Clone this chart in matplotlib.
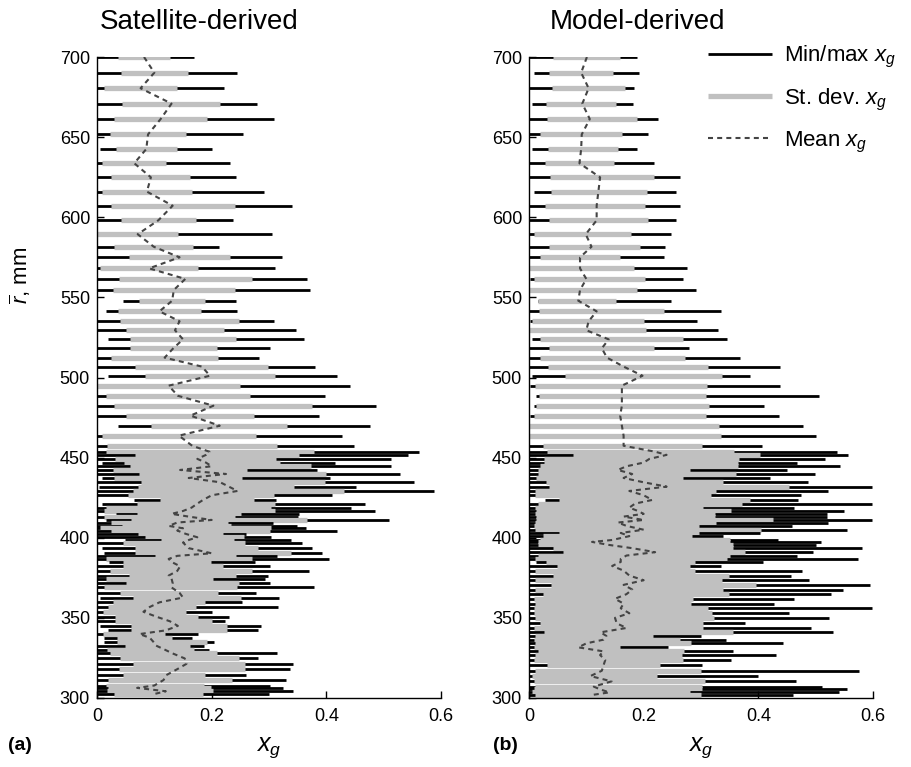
import matplotlib
matplotlib.use("Agg")
import matplotlib.pyplot as plt
from matplotlib.lines import Line2D

plt.rcParams["font.family"] = ["Liberation Sans", "DejaVu Sans"]
plt.rcParams["mathtext.fontset"] = "custom"
plt.rcParams["mathtext.rm"] = "Liberation Sans"
plt.rcParams["mathtext.it"] = "Liberation Sans:italic"

# ---- (a) satellite-derived: radius bins, min/max, st. dev. band and mean of x_g
sat_r = [700, 690.2, 680.5, 670.9, 661.3, 651.7, 642.6, 633.7, 624.9, 616.0, 607.2, 598.1,
         589.4, 581.6, 575.0, 568.1, 561.5, 554.6, 547.9, 541.3, 535.1, 529.5, 523.8, 518.2,
         512.4, 506.8, 501.1, 494.9, 488.6, 482.4, 476.2, 469.9, 463.7, 457.4,
         453.7, 451.7, 449.2, 446.9, 444.6, 442.3, 439.8, 437.3, 434.6, 431.9, 429.2, 426.5,
         423.6, 421.3, 418.8, 416.7, 414.9, 413.2, 411.1, 409.5, 407.4, 405.9, 404.5, 402.4,
         400.3, 398.6, 397.0, 393.5, 390.3, 388.7, 386.8, 384.9, 382.2, 379.3, 376.4,
         374.5, 371.7, 369.0, 365.6, 362.7, 359.7, 356.8, 353.8, 350.8, 347.9, 345.0, 342.2,
         339.9, 337.6, 335.2, 332.7, 330.2, 327.8, 324.7, 321.3, 318.0, 314.3, 311.2, 307.8,
         306.3, 304.2, 302.5]
sat_min = [0, 0, 0, 0, 0, 0, .006, 0, 0, 0, 0, 0, 0, 0, 0, 0, 0, 0, .045, .016, 0, 0, .019, 0,
           0, 0, .019, 0, 0, 0, 0, .036, 0, 0,
           0, 0, 0, .009, 0, 0, 0, .008, 0, .004, 0, 0, .064, .008, 0, 0, .033, 0, .016, 0,
           0, 0, 0, 0, 0, .048, 0, .008, .013, 0, 0, .021, 0, 0, 0,
           0, 0, 0, 0, .005, 0, 0, 0, 0, 0, .005, .019, 0, .012, .012, 0, 0, 0, 0, 0, 0, 0,
           0, 0, 0, 0, 0]
sat_max = [.169, .245, .221, .279, .309, .254, .201, .232, .243, .291, .340, .237, .306, .213,
           .323, .311, .367, .372, .243, .245, .309, .347, .361, .301, .282, .381, .418, .442,
           .398, .487, .388, .477, .428, .449,
           .562, .542, .512, .415, .512, .383, .529, .406, .553, .452, .587, .410, .313, .467,
           .443, .485, .352, .350, .509, .307, .349, .364, .419, .260, .304, .339, .357, .375,
           .392, .314, .404, .275, .302, .369, .299,
           .293, .301, .378, .277, .317, .253, .315, .200, .230, .224, .286, .281, .177, .166,
           .204, .187, .195, .314, .281, .342, .336, .260, .330, .301, .324, .342, .300]
sat_lo = [.037, .041, .012, .044, .029, .023, .033, .008, .024, .008, .024, .042, 0, .030,
          .056, .006, .038, .028, .073, .037, .040, .051, .057, .057, .024, .067, .083, 0,
          .015, .030, .051, .095, .008, .017,
          .016, .067, .031, .047, .058, .028, .074, .029, .076, .071, .062, .054, .110, .069,
          .015, .013, .069, .013, .060, .025, .044, .005, .025, .071, .083, .112, .045, .066,
          .066, .102, .016, .046, .046, .023, .056,
          .015, .051, .013, .040, .063, .028, .020, .011, .031, .032, .060, .060, .011, .035,
          .035, .048, .017, .023, .040, .063, .038, .046, .020, .016, .020, .017, .030]
sat_hi = [.127, .159, .139, .215, .192, .155, .139, .121, .163, .166, .240, .172, .141, .167,
          .232, .176, .270, .240, .188, .181, .247, .221, .242, .209, .211, .299, .311, .250,
          .267, .375, .274, .332, .278, .314,
          .378, .352, .313, .320, .374, .261, .399, .253, .398, .344, .430, .308, .274, .311,
          .304, .311, .252, .241, .366, .229, .234, .304, .302, .220, .256, .239, .258, .280,
          .339, .243, .271, .199, .219, .271, .243,
          .202, .247, .244, .211, .252, .189, .173, .155, .177, .200, .227, .227, .119, .131,
          .191, .162, .169, .209, .247, .259, .259, .188, .235, .186, .199, .202, .185]
sat_mean = [.082, .100, .076, .130, .111, .089, .086, .065, .094, .087, .132, .107, .071, .099,
            .144, .091, .154, .134, .131, .109, .144, .136, .150, .133, .118, .183, .197, .125,
            .141, .203, .163, .214, .143, .166,
            .196, .190, .175, .190, .200, .145, .225, .160, .215, .230, .245, .200, .185, .175,
            .165, .150, .130, .160, .200, .140, .125, .150, .140, .155, .175, .160, .150, .160,
            .200, .140, .125, .130, .145, .140, .125,
            .130, .132, .130, .144, .150, .109, .092, .081, .103, .127, .141, .120, .074, .092,
            .098, .103, .118, .132, .153, .156, .140, .121, .116, .100, .070, .120, .100]

# ---- (b) model-derived
mod_r = [700, 690.2, 680.5, 670.9, 661.3, 651.7, 642.6, 633.7, 624.9, 616.0, 607.2, 598.1,
         589.4, 581.6, 575.0, 568.1, 561.5, 554.6, 547.9, 541.3, 535.1, 529.5, 523.8, 518.2,
         512.4, 506.8, 501.1, 494.9, 488.6, 482.4, 476.2, 469.9, 463.7, 457.4,
         453.7, 451.7, 449.2, 446.9, 444.6, 442.3, 439.8, 437.3, 434.6, 431.9, 429.2, 426.5,
         423.6, 421.3, 418.8, 416.7, 414.9, 413.2, 411.1, 409.5, 407.4, 405.0, 403.0, 401.0,
         398.6, 397.4, 395.5, 393.5, 391.0, 388.9, 386.8, 384.9, 382.4, 379.5, 376.4, 373.5,
         370.6, 367.7, 364.8, 361.9, 358.9, 356.0, 352.9, 350.0,
         346.6, 343.7, 341.0, 338.7, 336.4, 334.1, 331.6, 329.1, 326.8, 323.7, 320.4, 317.0,
         313.7, 310.4, 307.1, 305.4, 303.5, 302.0]
mod_min = [0, .008, 0, .005, 0, 0, .005, 0, 0, .009, 0, 0, 0, 0, 0, 0, .002, 0, .015, 0,
           .002, 0, .005, 0, 0, 0, .005, .002, .013, .008, .002, 0, 0, 0,
           0, 0, 0, 0, 0, 0, 0, 0, 0, 0, 0, 0, .028, 0, 0, 0, 0, 0, 0, 0, 0, 0, 0, 0, 0, 0,
           0, 0, 0, 0, 0, .012, 0, 0, 0, 0, 0, 0, 0, 0, 0, 0, 0, 0,
           0, 0, 0, 0, 0, 0, 0, 0, 0, 0, 0, 0, 0, 0, 0, 0, 0, 0]
mod_max = [.189, .192, .184, .182, .225, .207, .189, .218, .264, .256, .264, .257, .248, .237,
           .235, .275, .269, .292, .247, .335, .293, .329, .346, .279, .368, .438, .385, .437,
           .506, .410, .436, .478, .500, .406,
           .538, .556, .516, .468, .542, .450, .498, .421, .487, .598, .521, .474, .470, .598,
           .463, .549, .519, .520, .598, .521, .459, .555, .403, .338, .435, .510, .500, .581,
           .496, .467, .574, .409, .335, .477, .457, .488, .594, .547, .527, .463, .428, .598,
           .453, .523,
           .376, .491, .531, .300, .343, .443, .242, .356, .431, .352, .301, .575, .400, .466,
           .511, .555, .541, .460]
mod_lo = [.042, .035, .040, .030, .032, .019, .033, .028, .036, .038, .028, .035, .009, .035,
          .019, 0, .008, 0, .015, .017, .006, 0, .019, .035, .020, .034, .063, .010, .017,
          .012, .008, 0, 0, .025,
          .031, .077, .026, .026, .020, .015, .016, .012, .030, .035, .010, .010, .053, .015,
          .011, .013, .010, .012, .012, .010, .008, .011, .053, .025, .020, .016, .016, .041,
          .060, .016, .010, .030, .048, .010, .042, .011, .038, .010, .025, .009, .011, .008,
          .008, .010,
          .019, .009, .026, .010, .008, .010, .008, .016, .010, .008, .032, .010, .005, .008,
          .010, .008, .006, .010]
mod_hi = [.159, .146, .168, .152, .188, .163, .156, .148, .218, .206, .203, .207, .178, .194,
          .159, .183, .203, .188, .152, .235, .201, .204, .268, .218, .272, .312, .336, .311,
          .309, .314, .309, .332, .335, .301,
          .357, .403, .367, .365, .365, .281, .361, .269, .338, .453, .326, .317, .385, .371,
          .304, .352, .324, .325, .425, .327, .297, .404, .296, .284, .351, .351, .356, .356,
          .376, .350, .345, .290, .281, .290, .348, .336, .396, .339, .348, .286, .283, .312,
          .319, .322,
          .304, .304, .356, .217, .264, .283, .158, .271, .267, .268, .228, .300, .224, .307,
          .301, .301, .281, .300]
mod_mean = [.101, .091, .104, .093, .106, .092, .091, .088, .124, .121, .118, .118, .099, .109,
            .089, .089, .100, .089, .086, .118, .104, .100, .139, .127, .136, .165, .198, .162,
            .162, .162, .159, .162, .165, .165,
            .220, .240, .210, .200, .170, .155, .180, .165, .200, .240, .175, .200, .215, .185,
            .175, .190, .200, .165, .200, .155, .170, .200, .160, .175, .145, .110, .140, .180,
            .220, .170, .160, .160, .145, .165, .175, .200, .165, .180, .170, .150, .165, .160,
            .175, .150,
            .153, .170, .125, .135, .130, .100, .086, .130, .124, .133, .130, .127, .107, .144,
            .113, .124, .140, .112]

panels = [
    ("Satellite-derived", sat_r, sat_min, sat_max, sat_lo, sat_hi, sat_mean),
    ("Model-derived", mod_r, mod_min, mod_max, mod_lo, mod_hi, mod_mean),
]

fig = plt.figure(figsize=(9.12, 7.67), dpi=100)
W, H = 912, 767
lefts = [97, 529]
titles_x = [100, 550]
for (title, r, mn, mx, lo, hi, mean), left, tx in zip(panels, lefts, titles_x):
    ax = fig.add_axes([left / W, 1 - 698 / H, 344 / W, 641 / H])
    # per row: min/max line first, st. dev. band drawn over it
    for i in range(len(r)):
        ax.plot([mn[i], mx[i]], [r[i], r[i]], color="black", lw=2.0,
                solid_capstyle="butt")
        ax.plot([lo[i], hi[i]], [r[i], r[i]], color="#c0c0c0", lw=3.8,
                solid_capstyle="butt")
    ax.plot(mean, r, color="#444444", lw=1.5, ls=(0, (2.4, 2.0)), zorder=5)
    ax.set_xlim(0, 0.6)
    ax.set_ylim(300, 700)
    ax.set_xticks([0, 0.2, 0.4, 0.6])
    ax.set_xticklabels(["0", "0.2", "0.4", "0.6"])
    ax.set_yticks(range(300, 701, 50))
    ax.tick_params(direction="in", length=5, width=1, labelsize=13)
    ax.tick_params(axis="x", pad=7)
    ax.tick_params(axis="y", pad=5)
    for s in ["top", "right"]:
        ax.spines[s].set_visible(False)
    for s in ["left", "bottom"]:
        ax.spines[s].set_linewidth(1)
    fig.text(tx / W, 1 - 22 / H, title, fontsize=20, ha="left", va="center")

fig.text(20 / W, 1 - 275 / H, r"$\overline{r}$, mm", fontsize=16, rotation=90,
         ha="center", va="center")
fig.text(269 / W, 1 - 748 / H, r"$x_g$", fontsize=18, ha="center", va="center")
fig.text(701 / W, 1 - 748 / H, r"$x_g$", fontsize=18, ha="center", va="center")
fig.text(8 / W, 1 - 745 / H, "(a)", fontsize=14, fontweight="bold", ha="left", va="center")
fig.text(493 / W, 1 - 745 / H, "(b)", fontsize=14, fontweight="bold", ha="left", va="center")

handles = [
    Line2D([], [], color="black", lw=2.0, solid_capstyle="butt"),
    Line2D([], [], color="#c0c0c0", lw=3.8, solid_capstyle="butt"),
    Line2D([], [], color="#444444", lw=1.5, ls=(0, (2.4, 2.0))),
]
labels = [r"Min/max $x_g$", r"St. dev. $x_g$", r"Mean $x_g$"]
fig.legend(handles, labels, loc="upper left", bbox_to_anchor=(708 / W, 1 - 44 / H),
           frameon=False, fontsize=16, handlelength=2.9, handletextpad=0.5,
           labelspacing=0.75, borderpad=0, borderaxespad=0)

fig.savefig("out.png", dpi=100)
